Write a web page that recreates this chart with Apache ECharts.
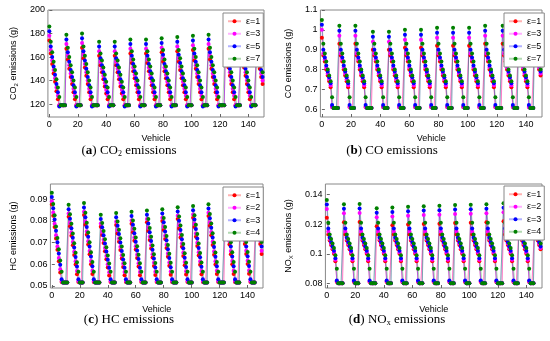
<!DOCTYPE html>
<html><head><meta charset="utf-8">
<script src="https://cdn.jsdelivr.net/npm/echarts@6/dist/echarts.min.js"></script>
<style>
html,body{margin:0;padding:0;background:#fff;}
#wrap{position:relative;width:550px;height:341px;background:#fff;}
.p{position:absolute;}
</style></head><body>
<div id="wrap">
<div class="p" id="pa" style="left:0;top:0;width:275px;height:170px"></div>
<div class="p" id="pb" style="left:275px;top:0;width:275px;height:170px"></div>
<div class="p" id="pc" style="left:0;top:170px;width:275px;height:171px"></div>
<div class="p" id="pd" style="left:275px;top:170px;width:275px;height:171px"></div>
</div>
<script>
// ---------- tick labels ----------
const xTicks = [0, 20, 40, 60, 80, 100, 120, 140];
const co2Ticks = [120, 140, 160, 180, 200];
const coTicks = [0.6, 0.7, 0.8, 0.9, 1, 1.1];
const hcTicks = [0.05, 0.06, 0.07, 0.08, 0.09];
const noxTicks = [0.08, 0.1, 0.12, 0.14];

const legendTop = ['ε=1', 'ε=3', 'ε=5', 'ε=7'];
const legendBottom = ['ε=1', 'ε=2', 'ε=3', 'ε=4'];

// ---------- CO2 (g), vehicles 0..150 ----------
const co2_e1 = [174,163,154,146,139,131,124,119,119,119,119,119,
 167,158,150,143,137,130,124,119,119,119,119,
 168,159,151,144,137,130,124,119,119,119,119,119,
 161,153,147,141,135,129,124,119,119,119,119,
 161,153,147,141,135,129,124,119,119,119,119,
 163,155,148,142,136,130,124,119,119,119,119,
 163,155,148,142,136,130,124,119,119,119,119,
 164,156,148,142,136,130,124,119,119,119,119,
 165,156,149,142,136,130,124,119,119,119,119,
 166,157,150,143,137,130,124,119,119,119,119,
 167,158,150,143,137,130,124,119,119,119,119,119,
 168,159,151,144,137,130,124,119,119,119,119,
 168,159,151,144,137,130,124,119,119,119,119,
 167,158,150,143,137];
const co2_e3 = [178,166,157,149,142,134,127,119,119,119,119,119,
 171,161,153,146,140,133,127,119,119,119,119,
 172,162,154,147,140,133,127,119,119,119,119,119,
 165,156,150,144,138,132,127,119,119,119,119,
 165,156,150,144,138,132,127,119,119,119,119,
 167,158,151,145,139,133,127,119,119,119,119,
 167,158,151,145,139,133,127,119,119,119,119,
 168,159,151,145,139,133,127,119,119,119,119,
 169,159,152,145,139,133,127,119,119,119,119,
 170,160,153,146,140,133,127,119,119,119,119,
 171,161,153,146,140,133,127,119,119,119,119,119,
 172,162,154,147,140,133,127,119,119,119,119,
 172,162,154,147,140,133,127,119,119,119,119,
 171,161,153,146,140];
const co2_e5 = [182,169,160,152,145,137,130,118,119,119,119,119,
 175,164,156,149,143,136,130,118,119,119,119,
 176,165,157,150,143,136,130,118,119,119,119,119,
 169,159,153,147,141,135,130,118,119,119,119,
 169,159,153,147,141,135,130,118,119,119,119,
 171,161,154,148,142,136,130,118,119,119,119,
 171,161,154,148,142,136,130,118,119,119,119,
 172,162,154,148,142,136,130,118,119,119,119,
 173,162,155,148,142,136,130,118,119,119,119,
 174,163,156,149,143,136,130,118,119,119,119,
 175,164,156,149,143,136,130,118,119,119,119,119,
 176,165,157,150,143,136,130,118,119,119,119,
 176,165,157,150,143,136,130,118,119,119,119,
 175,164,156,149,143];
const co2_e7 = [186,173,164,156,149,141,134,126,119,119,119,119,
 179,168,160,153,147,140,134,126,119,119,119,
 180,169,161,154,147,140,134,126,119,119,119,119,
 173,163,157,151,145,139,134,126,119,119,119,
 173,163,157,151,145,139,134,126,119,119,119,
 175,165,158,152,146,140,134,126,119,119,119,
 175,165,158,152,146,140,134,126,119,119,119,
 176,166,158,152,146,140,134,126,119,119,119,
 177,166,159,152,146,140,134,126,119,119,119,
 178,167,160,153,147,140,134,126,119,119,119,
 179,168,160,153,147,140,134,126,119,119,119,119,
 180,169,161,154,147,140,134,126,119,119,119,
 180,169,161,154,147,140,134,126,119,119,119,
 179,168,160,153,147];

// ---------- CO (g) ----------
const co_e1 = [0.96,0.87,0.84,0.80,0.77,0.74,0.71,0.61,0.606,0.606,0.606,0.606,
 0.93,0.87,0.84,0.80,0.77,0.74,0.71,0.61,0.606,0.606,0.606,
 0.93,0.87,0.84,0.80,0.77,0.74,0.71,0.61,0.606,0.606,0.606,0.606,
 0.90,0.87,0.84,0.80,0.77,0.74,0.71,0.61,0.606,0.606,0.606,
 0.90,0.87,0.84,0.80,0.77,0.74,0.71,0.61,0.606,0.606,0.606,
 0.91,0.87,0.84,0.80,0.77,0.74,0.71,0.61,0.606,0.606,0.606,
 0.91,0.87,0.84,0.80,0.77,0.74,0.71,0.61,0.606,0.606,0.606,
 0.92,0.87,0.84,0.80,0.77,0.74,0.71,0.61,0.606,0.606,0.606,
 0.92,0.87,0.84,0.80,0.77,0.74,0.71,0.61,0.606,0.606,0.606,
 0.92,0.87,0.84,0.80,0.77,0.74,0.71,0.61,0.606,0.606,0.606,
 0.93,0.87,0.84,0.80,0.77,0.74,0.71,0.61,0.606,0.606,0.606,0.606,
 0.93,0.87,0.84,0.80,0.77,0.74,0.71,0.61,0.606,0.606,0.606,
 0.93,0.87,0.84,0.80,0.77,0.74,0.71,0.61,0.606,0.606,0.606,
 0.93,0.87,0.84,0.80,0.77];
const co_e3 = [1.00,0.88,0.85,0.81,0.78,0.75,0.72,0.61,0.606,0.606,0.606,0.606,
 0.97,0.88,0.85,0.81,0.78,0.75,0.72,0.61,0.606,0.606,0.606,
 0.97,0.88,0.85,0.81,0.78,0.75,0.72,0.61,0.606,0.606,0.606,0.606,
 0.94,0.88,0.85,0.81,0.78,0.75,0.72,0.61,0.606,0.606,0.606,
 0.94,0.88,0.85,0.81,0.78,0.75,0.72,0.61,0.606,0.606,0.606,
 0.95,0.88,0.85,0.81,0.78,0.75,0.72,0.61,0.606,0.606,0.606,
 0.95,0.88,0.85,0.81,0.78,0.75,0.72,0.61,0.606,0.606,0.606,
 0.96,0.88,0.85,0.81,0.78,0.75,0.72,0.61,0.606,0.606,0.606,
 0.96,0.88,0.85,0.81,0.78,0.75,0.72,0.61,0.606,0.606,0.606,
 0.96,0.88,0.85,0.81,0.78,0.75,0.72,0.61,0.606,0.606,0.606,
 0.97,0.88,0.85,0.81,0.78,0.75,0.72,0.61,0.606,0.606,0.606,0.606,
 0.97,0.88,0.85,0.81,0.78,0.75,0.72,0.61,0.606,0.606,0.606,
 0.97,0.88,0.85,0.81,0.78,0.75,0.72,0.61,0.606,0.606,0.606,
 0.97,0.88,0.85,0.81,0.78];
const co_e5 = [1.025,0.90,0.86,0.82,0.79,0.76,0.73,0.62,0.606,0.606,0.606,0.606,
 0.995,0.90,0.86,0.82,0.79,0.76,0.73,0.62,0.606,0.606,0.606,
 0.995,0.90,0.86,0.82,0.79,0.76,0.73,0.62,0.606,0.606,0.606,0.606,
 0.965,0.90,0.86,0.82,0.79,0.76,0.73,0.62,0.606,0.606,0.606,
 0.965,0.90,0.86,0.82,0.79,0.76,0.73,0.62,0.606,0.606,0.606,
 0.975,0.90,0.86,0.82,0.79,0.76,0.73,0.62,0.606,0.606,0.606,
 0.975,0.90,0.86,0.82,0.79,0.76,0.73,0.62,0.606,0.606,0.606,
 0.985,0.90,0.86,0.82,0.79,0.76,0.73,0.62,0.606,0.606,0.606,
 0.985,0.90,0.86,0.82,0.79,0.76,0.73,0.62,0.606,0.606,0.606,
 0.985,0.90,0.86,0.82,0.79,0.76,0.73,0.62,0.606,0.606,0.606,
 0.995,0.90,0.86,0.82,0.79,0.76,0.73,0.62,0.606,0.606,0.606,0.606,
 0.995,0.90,0.86,0.82,0.79,0.76,0.73,0.62,0.606,0.606,0.606,
 0.995,0.90,0.86,0.82,0.79,0.76,0.73,0.62,0.606,0.606,0.606,
 0.995,0.90,0.86,0.82,0.79];
const co_e7 = [1.05,0.93,0.88,0.84,0.80,0.77,0.74,0.66,0.606,0.606,0.606,0.606,
 1.02,0.93,0.88,0.84,0.80,0.77,0.74,0.66,0.606,0.606,0.606,
 1.02,0.93,0.88,0.84,0.80,0.77,0.74,0.66,0.606,0.606,0.606,0.606,
 0.99,0.93,0.88,0.84,0.80,0.77,0.74,0.66,0.606,0.606,0.606,
 0.99,0.93,0.88,0.84,0.80,0.77,0.74,0.66,0.606,0.606,0.606,
 1.00,0.93,0.88,0.84,0.80,0.77,0.74,0.66,0.606,0.606,0.606,
 1.00,0.93,0.88,0.84,0.80,0.77,0.74,0.66,0.606,0.606,0.606,
 1.01,0.93,0.88,0.84,0.80,0.77,0.74,0.66,0.606,0.606,0.606,
 1.01,0.93,0.88,0.84,0.80,0.77,0.74,0.66,0.606,0.606,0.606,
 1.01,0.93,0.88,0.84,0.80,0.77,0.74,0.66,0.606,0.606,0.606,
 1.02,0.93,0.88,0.84,0.80,0.77,0.74,0.66,0.606,0.606,0.606,0.606,
 1.02,0.93,0.88,0.84,0.80,0.77,0.74,0.66,0.606,0.606,0.606,
 1.02,0.93,0.88,0.84,0.80,0.77,0.74,0.66,0.606,0.606,0.606,
 1.02,0.93,0.88,0.84,0.80];

// ---------- HC (g) ----------
const hc_e1 = [0.0875,0.0823,0.0771,0.0719,0.0666,0.0614,0.0562,0.0518,0.0515,0.0515,0.0515,0.0515,
 0.0819,0.0775,0.0731,0.0687,0.0642,0.0598,0.0554,0.0518,0.0515,0.0515,0.0515,
 0.0827,0.0782,0.0736,0.0691,0.0646,0.0600,0.0555,0.0518,0.0515,0.0515,0.0515,0.0515,
 0.0773,0.0735,0.0698,0.0660,0.0623,0.0585,0.0548,0.0518,0.0515,0.0515,0.0515,
 0.0781,0.0742,0.0704,0.0665,0.0626,0.0587,0.0549,0.0518,0.0515,0.0515,0.0515,
 0.0787,0.0747,0.0708,0.0668,0.0628,0.0589,0.0549,0.0518,0.0515,0.0515,0.0515,
 0.0793,0.0753,0.0712,0.0672,0.0631,0.0591,0.0550,0.0518,0.0515,0.0515,0.0515,
 0.0799,0.0758,0.0716,0.0675,0.0634,0.0593,0.0551,0.0518,0.0515,0.0515,0.0515,
 0.0808,0.0765,0.0723,0.0680,0.0638,0.0595,0.0552,0.0518,0.0515,0.0515,0.0515,
 0.0814,0.0771,0.0727,0.0684,0.0640,0.0597,0.0553,0.0518,0.0515,0.0515,0.0515,
 0.0822,0.0777,0.0733,0.0688,0.0644,0.0599,0.0555,0.0518,0.0515,0.0515,0.0515,0.0515,
 0.0827,0.0782,0.0736,0.0691,0.0646,0.0600,0.0555,0.0518,0.0515,0.0515,0.0515,
 0.0830,0.0784,0.0739,0.0693,0.0647,0.0601,0.0556,0.0518,0.0515,0.0515,0.0515,
 0.0830,0.0784,0.0739,0.0693,0.0647];
const hc_e2 = [0.0890,0.0838,0.0786,0.0734,0.0681,0.0629,0.0577,0.0522,0.0515,0.0515,0.0515,0.0515,
 0.0834,0.0790,0.0746,0.0702,0.0657,0.0613,0.0569,0.0522,0.0515,0.0515,0.0515,
 0.0842,0.0797,0.0751,0.0706,0.0661,0.0615,0.0570,0.0522,0.0515,0.0515,0.0515,0.0515,
 0.0788,0.0750,0.0713,0.0675,0.0638,0.0600,0.0563,0.0522,0.0515,0.0515,0.0515,
 0.0796,0.0757,0.0719,0.0680,0.0641,0.0602,0.0564,0.0522,0.0515,0.0515,0.0515,
 0.0802,0.0762,0.0723,0.0683,0.0643,0.0604,0.0564,0.0522,0.0515,0.0515,0.0515,
 0.0808,0.0768,0.0727,0.0687,0.0646,0.0606,0.0565,0.0522,0.0515,0.0515,0.0515,
 0.0814,0.0773,0.0731,0.0690,0.0649,0.0608,0.0566,0.0522,0.0515,0.0515,0.0515,
 0.0823,0.0780,0.0738,0.0695,0.0653,0.0610,0.0567,0.0522,0.0515,0.0515,0.0515,
 0.0829,0.0786,0.0742,0.0699,0.0655,0.0612,0.0568,0.0522,0.0515,0.0515,0.0515,
 0.0837,0.0792,0.0748,0.0703,0.0659,0.0614,0.0570,0.0522,0.0515,0.0515,0.0515,0.0515,
 0.0842,0.0797,0.0751,0.0706,0.0661,0.0615,0.0570,0.0522,0.0515,0.0515,0.0515,
 0.0845,0.0799,0.0754,0.0708,0.0662,0.0616,0.0571,0.0522,0.0515,0.0515,0.0515,
 0.0845,0.0799,0.0754,0.0708,0.0662];
const hc_e3 = [0.0910,0.0858,0.0806,0.0754,0.0701,0.0649,0.0597,0.0530,0.0515,0.0515,0.0515,0.0515,
 0.0854,0.0810,0.0766,0.0722,0.0677,0.0633,0.0589,0.0530,0.0515,0.0515,0.0515,
 0.0862,0.0817,0.0771,0.0726,0.0681,0.0635,0.0590,0.0530,0.0515,0.0515,0.0515,0.0515,
 0.0808,0.0770,0.0733,0.0695,0.0658,0.0620,0.0583,0.0530,0.0515,0.0515,0.0515,
 0.0816,0.0777,0.0739,0.0700,0.0661,0.0622,0.0584,0.0530,0.0515,0.0515,0.0515,
 0.0822,0.0782,0.0743,0.0703,0.0663,0.0624,0.0584,0.0530,0.0515,0.0515,0.0515,
 0.0828,0.0788,0.0747,0.0707,0.0666,0.0626,0.0585,0.0530,0.0515,0.0515,0.0515,
 0.0834,0.0793,0.0751,0.0710,0.0669,0.0628,0.0586,0.0530,0.0515,0.0515,0.0515,
 0.0843,0.0800,0.0758,0.0715,0.0673,0.0630,0.0587,0.0530,0.0515,0.0515,0.0515,
 0.0849,0.0806,0.0762,0.0719,0.0675,0.0632,0.0588,0.0530,0.0515,0.0515,0.0515,
 0.0857,0.0812,0.0768,0.0723,0.0679,0.0634,0.0590,0.0530,0.0515,0.0515,0.0515,0.0515,
 0.0862,0.0817,0.0771,0.0726,0.0681,0.0635,0.0590,0.0530,0.0515,0.0515,0.0515,
 0.0865,0.0819,0.0774,0.0728,0.0682,0.0636,0.0591,0.0530,0.0515,0.0515,0.0515,
 0.0865,0.0819,0.0774,0.0728,0.0682];
const hc_e4 = [0.0930,0.0878,0.0826,0.0774,0.0721,0.0669,0.0617,0.0565,0.0515,0.0515,0.0515,0.0515,
 0.0874,0.0830,0.0786,0.0742,0.0697,0.0653,0.0609,0.0565,0.0515,0.0515,0.0515,
 0.0882,0.0837,0.0791,0.0746,0.0701,0.0655,0.0610,0.0565,0.0515,0.0515,0.0515,0.0515,
 0.0828,0.0790,0.0753,0.0715,0.0678,0.0640,0.0603,0.0565,0.0515,0.0515,0.0515,
 0.0836,0.0797,0.0759,0.0720,0.0681,0.0642,0.0604,0.0565,0.0515,0.0515,0.0515,
 0.0842,0.0802,0.0763,0.0723,0.0683,0.0644,0.0604,0.0565,0.0515,0.0515,0.0515,
 0.0848,0.0808,0.0767,0.0727,0.0686,0.0646,0.0605,0.0565,0.0515,0.0515,0.0515,
 0.0854,0.0813,0.0771,0.0730,0.0689,0.0648,0.0606,0.0565,0.0515,0.0515,0.0515,
 0.0863,0.0820,0.0778,0.0735,0.0693,0.0650,0.0607,0.0565,0.0515,0.0515,0.0515,
 0.0869,0.0826,0.0782,0.0739,0.0695,0.0652,0.0608,0.0565,0.0515,0.0515,0.0515,
 0.0877,0.0832,0.0788,0.0743,0.0699,0.0654,0.0610,0.0565,0.0515,0.0515,0.0515,0.0515,
 0.0882,0.0837,0.0791,0.0746,0.0701,0.0655,0.0610,0.0565,0.0515,0.0515,0.0515,
 0.0885,0.0839,0.0794,0.0748,0.0702,0.0656,0.0611,0.0565,0.0515,0.0515,0.0515,
 0.0885,0.0839,0.0794,0.0748,0.0702];

// ---------- NOx (g) ----------
const nox_e1 = [0.1242,0.113,0.109,0.106,0.103,0.100,0.095,0.081,0.0802,0.0802,0.0802,0.0802,
 0.1213,0.113,0.109,0.106,0.103,0.100,0.095,0.081,0.0802,0.0802,0.0802,
 0.1215,0.113,0.109,0.106,0.103,0.100,0.095,0.081,0.0802,0.0802,0.0802,0.0802,
 0.1186,0.113,0.109,0.106,0.103,0.100,0.095,0.081,0.0802,0.0802,0.0802,
 0.1192,0.113,0.109,0.106,0.103,0.100,0.095,0.081,0.0802,0.0802,0.0802,
 0.1197,0.113,0.109,0.106,0.103,0.100,0.095,0.081,0.0802,0.0802,0.0802,
 0.1201,0.113,0.109,0.106,0.103,0.100,0.095,0.081,0.0802,0.0802,0.0802,
 0.1203,0.113,0.109,0.106,0.103,0.100,0.095,0.081,0.0802,0.0802,0.0802,
 0.1208,0.113,0.109,0.106,0.103,0.100,0.095,0.081,0.0802,0.0802,0.0802,
 0.1210,0.113,0.109,0.106,0.103,0.100,0.095,0.081,0.0802,0.0802,0.0802,
 0.1213,0.113,0.109,0.106,0.103,0.100,0.095,0.081,0.0802,0.0802,0.0802,0.0802,
 0.1220,0.113,0.109,0.106,0.103,0.100,0.095,0.081,0.0802,0.0802,0.0802,
 0.1220,0.113,0.109,0.106,0.103,0.100,0.095,0.081,0.0802,0.0802,0.0802,
 0.1220,0.113,0.109,0.106,0.103];
const nox_e2 = [0.1302,0.115,0.110,0.107,0.104,0.101,0.096,0.0815,0.0802,0.0802,0.0802,0.0802,
 0.1273,0.115,0.110,0.107,0.104,0.101,0.096,0.0815,0.0802,0.0802,0.0802,
 0.1275,0.115,0.110,0.107,0.104,0.101,0.096,0.0815,0.0802,0.0802,0.0802,0.0802,
 0.1246,0.115,0.110,0.107,0.104,0.101,0.096,0.0815,0.0802,0.0802,0.0802,
 0.1252,0.115,0.110,0.107,0.104,0.101,0.096,0.0815,0.0802,0.0802,0.0802,
 0.1257,0.115,0.110,0.107,0.104,0.101,0.096,0.0815,0.0802,0.0802,0.0802,
 0.1261,0.115,0.110,0.107,0.104,0.101,0.096,0.0815,0.0802,0.0802,0.0802,
 0.1263,0.115,0.110,0.107,0.104,0.101,0.096,0.0815,0.0802,0.0802,0.0802,
 0.1268,0.115,0.110,0.107,0.104,0.101,0.096,0.0815,0.0802,0.0802,0.0802,
 0.1270,0.115,0.110,0.107,0.104,0.101,0.096,0.0815,0.0802,0.0802,0.0802,
 0.1273,0.115,0.110,0.107,0.104,0.101,0.096,0.0815,0.0802,0.0802,0.0802,0.0802,
 0.1280,0.115,0.110,0.107,0.104,0.101,0.096,0.0815,0.0802,0.0802,0.0802,
 0.1280,0.115,0.110,0.107,0.104,0.101,0.096,0.0815,0.0802,0.0802,0.0802,
 0.1280,0.115,0.110,0.107,0.104];
const nox_e3 = [0.1332,0.117,0.111,0.108,0.105,0.102,0.097,0.082,0.0802,0.0802,0.0802,0.0802,
 0.1303,0.117,0.111,0.108,0.105,0.102,0.097,0.082,0.0802,0.0802,0.0802,
 0.1305,0.117,0.111,0.108,0.105,0.102,0.097,0.082,0.0802,0.0802,0.0802,0.0802,
 0.1276,0.117,0.111,0.108,0.105,0.102,0.097,0.082,0.0802,0.0802,0.0802,
 0.1282,0.117,0.111,0.108,0.105,0.102,0.097,0.082,0.0802,0.0802,0.0802,
 0.1287,0.117,0.111,0.108,0.105,0.102,0.097,0.082,0.0802,0.0802,0.0802,
 0.1291,0.117,0.111,0.108,0.105,0.102,0.097,0.082,0.0802,0.0802,0.0802,
 0.1293,0.117,0.111,0.108,0.105,0.102,0.097,0.082,0.0802,0.0802,0.0802,
 0.1298,0.117,0.111,0.108,0.105,0.102,0.097,0.082,0.0802,0.0802,0.0802,
 0.1300,0.117,0.111,0.108,0.105,0.102,0.097,0.082,0.0802,0.0802,0.0802,
 0.1303,0.117,0.111,0.108,0.105,0.102,0.097,0.082,0.0802,0.0802,0.0802,0.0802,
 0.1310,0.117,0.111,0.108,0.105,0.102,0.097,0.082,0.0802,0.0802,0.0802,
 0.1310,0.117,0.111,0.108,0.105,0.102,0.097,0.082,0.0802,0.0802,0.0802,
 0.1310,0.117,0.111,0.108,0.105];
const nox_e4 = [0.1362,0.121,0.113,0.110,0.107,0.104,0.099,0.090,0.0802,0.0802,0.0802,0.0802,
 0.1333,0.121,0.113,0.110,0.107,0.104,0.099,0.090,0.0802,0.0802,0.0802,
 0.1335,0.121,0.113,0.110,0.107,0.104,0.099,0.090,0.0802,0.0802,0.0802,0.0802,
 0.1306,0.121,0.113,0.110,0.107,0.104,0.099,0.090,0.0802,0.0802,0.0802,
 0.1312,0.121,0.113,0.110,0.107,0.104,0.099,0.090,0.0802,0.0802,0.0802,
 0.1317,0.121,0.113,0.110,0.107,0.104,0.099,0.090,0.0802,0.0802,0.0802,
 0.1321,0.121,0.113,0.110,0.107,0.104,0.099,0.090,0.0802,0.0802,0.0802,
 0.1323,0.121,0.113,0.110,0.107,0.104,0.099,0.090,0.0802,0.0802,0.0802,
 0.1328,0.121,0.113,0.110,0.107,0.104,0.099,0.090,0.0802,0.0802,0.0802,
 0.1330,0.121,0.113,0.110,0.107,0.104,0.099,0.090,0.0802,0.0802,0.0802,
 0.1333,0.121,0.113,0.110,0.107,0.104,0.099,0.090,0.0802,0.0802,0.0802,0.0802,
 0.1340,0.121,0.113,0.110,0.107,0.104,0.099,0.090,0.0802,0.0802,0.0802,
 0.1340,0.121,0.113,0.110,0.107,0.104,0.099,0.090,0.0802,0.0802,0.0802,
 0.1340,0.121,0.113,0.110,0.107];

// ---------- rendering ----------
const seriesColors = ['#ff0000', '#ff00ff', '#0000ff', '#008000'];
const SANS = 'Liberation Sans, Arial, sans-serif';
const SERIF = 'Liberation Serif, Times New Roman, serif';

function buildSeries(names, arrays) {
  return arrays.map((arr, k) => ({
    name: names[k], type: 'line',
    data: arr.map((v, i) => [i, v]),
    symbol: 'circle', symbolSize: 4, showSymbol: true, showAllSymbol: true,
    itemStyle: { color: seriesColors[k] },
    lineStyle: { color: seriesColors[k], width: 1, opacity: 0.3 },
    emphasis: { disabled: true },
    animation: false
  }));
}

function makeChart(id, cfg) {
  const chart = echarts.init(document.getElementById(id), null, { renderer: 'canvas' });
  chart.setOption({
    animation: false,
    backgroundColor: '#fff',
    grid: Object.assign({ show: true, borderColor: '#888', borderWidth: 1, backgroundColor: 'transparent' }, cfg.grid),
    xAxis: {
      type: 'value', min: -1, max: 151,
      name: 'Vehicle', nameLocation: 'middle', nameGap: 11,
      nameTextStyle: { fontSize: 9, fontFamily: SANS, color: '#000' },
      axisLine: { show: false }, splitLine: { show: false },
      axisTick: { show: true, inside: true, length: 3, lineStyle: { color: '#666' }, customValues: xTicks },
      axisLabel: { fontSize: 9, fontFamily: SANS, color: '#000', margin: 3, customValues: xTicks }
    },
    yAxis: {
      type: 'value', min: cfg.yMin, max: cfg.yMax,
      name: cfg.yName, nameLocation: 'middle', nameGap: cfg.nameGap, nameRotate: 90,
      nameTextStyle: { fontSize: 9, fontFamily: SANS, color: '#000', lineHeight: 11,
        rich: { s: { fontSize: 6, fontFamily: SANS, color: '#000', verticalAlign: 'bottom', lineHeight: 11 } } },
      axisLine: { show: false }, splitLine: { show: false },
      axisTick: { show: true, inside: true, length: 3, lineStyle: { color: '#666' }, customValues: cfg.yTicks },
      axisLabel: { fontSize: 9, fontFamily: SANS, color: '#000', margin: 3, customValues: cfg.yTicks }
    },
    legend: {
      data: cfg.names, orient: 'vertical', left: cfg.legend[0], top: cfg.legend[1],
      itemWidth: 13, itemHeight: 5, itemGap: 2, padding: [3, 3, 3, 4],
      backgroundColor: '#fff', borderColor: '#888', borderWidth: 1, borderRadius: 0,
      textStyle: { fontSize: 9, fontFamily: SANS, color: '#000', lineHeight: 10.5 },
      selectedMode: false, z: 10
    },
    graphic: [{
      type: 'text', x: cfg.caption[0], y: cfg.caption[1], z: 10,
      style: {
        text: cfg.caption[2], align: 'center', verticalAlign: 'middle',
        fontSize: 13, fontFamily: SERIF, fill: '#000',
        rich: {
          b: { fontSize: 13, fontFamily: SERIF, fontWeight: 'bold', fill: '#000' },
          s: { fontSize: 8, fontFamily: SERIF, fill: '#000', verticalAlign: 'bottom' }
        }
      }
    }],
    series: buildSeries(cfg.names, cfg.data)
  });
}

makeChart('pa', {
  grid: { left: 38, right: 11, top: 10, bottom: 53 },
  yMin: 109, yMax: 200, yTicks: co2Ticks, yName: 'CO{s|2} emissions (g)', nameGap: 20,
  names: legendTop, legend: [223, 13],
  caption: [129, 151, '({b|a}) CO{s|2} emissions'],
  data: [co2_e1, co2_e3, co2_e5, co2_e7]
});
makeChart('pb', {
  grid: { left: 38, right: 8, top: 10, bottom: 53 },
  yMin: 0.56, yMax: 1.1, yTicks: coTicks, yName: 'CO emissions (g)', nameGap: 18,
  names: legendTop, legend: [229, 13],
  caption: [117, 151, '({b|b}) CO emissions'],
  data: [co_e1, co_e3, co_e5, co_e7]
});
makeChart('pc', {
  grid: { left: 38, right: 12, top: 14, bottom: 53 },
  yMin: 0.049, yMax: 0.097, yTicks: hcTicks, yName: 'HC emissions (g)', nameGap: 20,
  names: legendBottom, legend: [223, 17],
  caption: [129, 150, '({b|c}) HC emissions'],
  data: [hc_e1, hc_e2, hc_e3, hc_e4]
});
makeChart('pd', {
  grid: { left: 47, right: 8, top: 14, bottom: 53 },
  yMin: 0.077, yMax: 0.147, yTicks: noxTicks, yName: 'NO{s|X} emissions (g)', nameGap: 24,
  names: legendBottom, legend: [229, 16],
  caption: [122, 150, '({b|d}) NO{s|x} emissions'],
  data: [nox_e1, nox_e2, nox_e3, nox_e4]
});
</script>
</body></html>
